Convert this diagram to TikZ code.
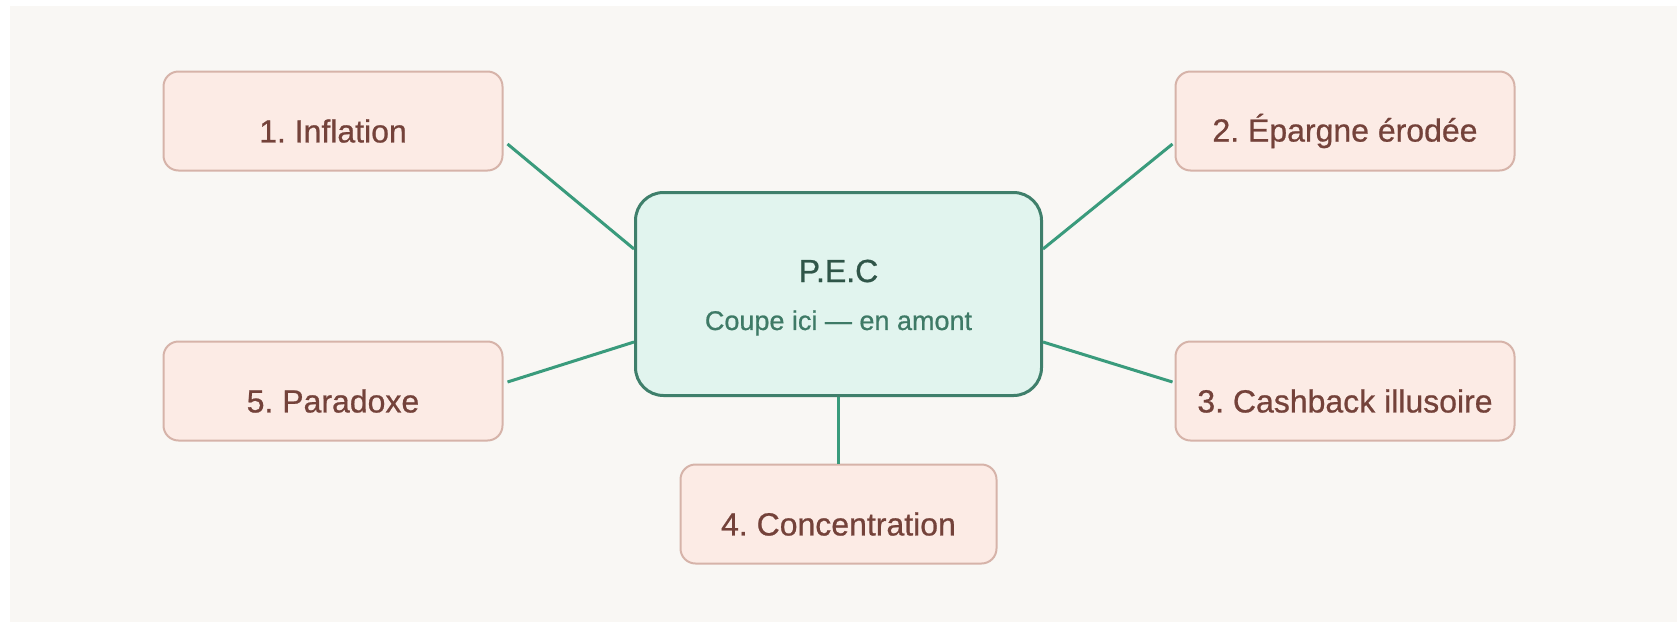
\documentclass[tikz,border=0pt]{standalone}
\usepackage{fontspec}
\setmainfont[FakeBold=0.7]{Liberation Sans}
\usetikzlibrary{calc}
\frenchspacing
\definecolor{pagebg}{HTML}{F9F7F4}
\definecolor{boxfill}{HTML}{FCEBE5}
\definecolor{boxdraw}{HTML}{D6B3A9}
\definecolor{boxtext}{HTML}{74423A}
\definecolor{cenfill}{HTML}{E1F4EE}
\definecolor{cendraw}{HTML}{3F7F6B}
\definecolor{centitle}{HTML}{2F5548}
\definecolor{censub}{HTML}{3E7A66}
\definecolor{linkcol}{HTML}{3A9B7C}
\tikzset{
  itembox/.style={draw=boxdraw, line width=2pt, fill=boxfill, rounded corners=15pt,
    minimum width=339pt, minimum height=99pt, inner sep=0pt},
  itemtext/.style={text=boxtext, font=\fontsize{32}{38}\selectfont, inner sep=0pt},
  cenbox/.style={draw=cendraw, line width=3pt, fill=cenfill, rounded corners=28pt,
    minimum width=406pt, minimum height=203pt, inner sep=0pt},
  link/.style={draw=linkcol, line width=3pt}
}
\begin{document}
\begin{tikzpicture}[x=1pt,y=-1pt]
\fill[white] (0,0) rectangle (1677,622);
\fill[pagebg] (10,6) rectangle (1677,622);
\useasboundingbox (0,0) rectangle (1677,622);

\node[cenbox] (cen) at (838.5,294) {};
\node[text=centitle, font=\fontsize{32}{38}\selectfont, inner sep=0pt] (title) at (838.5,271) {P.E.C};
\node[text=censub, font=\fontsize{27}{32}\selectfont, inner sep=0pt] (sub) at (838.5,323) {Coupe ici — en amont};

\node[itembox] (n1) at (333,121) {};
\node[itemtext] (t1) at ($(n1.center)+(0,10)$) {1. Inflation};
\node[itembox] (n2) at (1345,121) {};
\node[itemtext] (t2) at ($(n2.center)+(0,10)$) {2. Épargne érodée};
\node[itembox] (n3) at (1345,391) {};
\node[itemtext] (t3) at ($(n3.center)+(0,10)$) {3. Cashback illusoire};
\node[itembox, minimum width=316pt] (n4) at (838.5,514) {};
\node[itemtext] (t4) at ($(n4.center)+(0,10)$) {4. Concentration};
\node[itembox] (n5) at (333,391) {};
\node[itemtext] (t5) at ($(n5.center)+(0,10)$) {5. Paradoxe};

\coordinate (a1) at ($(n1.east)+(4,23)$);
\coordinate (b1) at ($(cen.west)+(0,-45)$);
\coordinate (a2) at ($(n2.west)+(-2,23)$);
\coordinate (b2) at ($(cen.east)+(0,-45)$);
\coordinate (a5) at ($(n5.east)+(4,-9)$);
\coordinate (b5) at ($(cen.west)+(0,48)$);
\coordinate (a3) at ($(n3.west)+(-2,-9)$);
\coordinate (b3) at ($(cen.east)+(0,48)$);

\draw[link] (a1) -- (b1);
\draw[link] (a2) -- (b2);
\draw[link] (a5) -- (b5);
\draw[link] (a3) -- (b3);
\draw[link] (cen.south) -- (n4.north);
\end{tikzpicture}
\end{document}
